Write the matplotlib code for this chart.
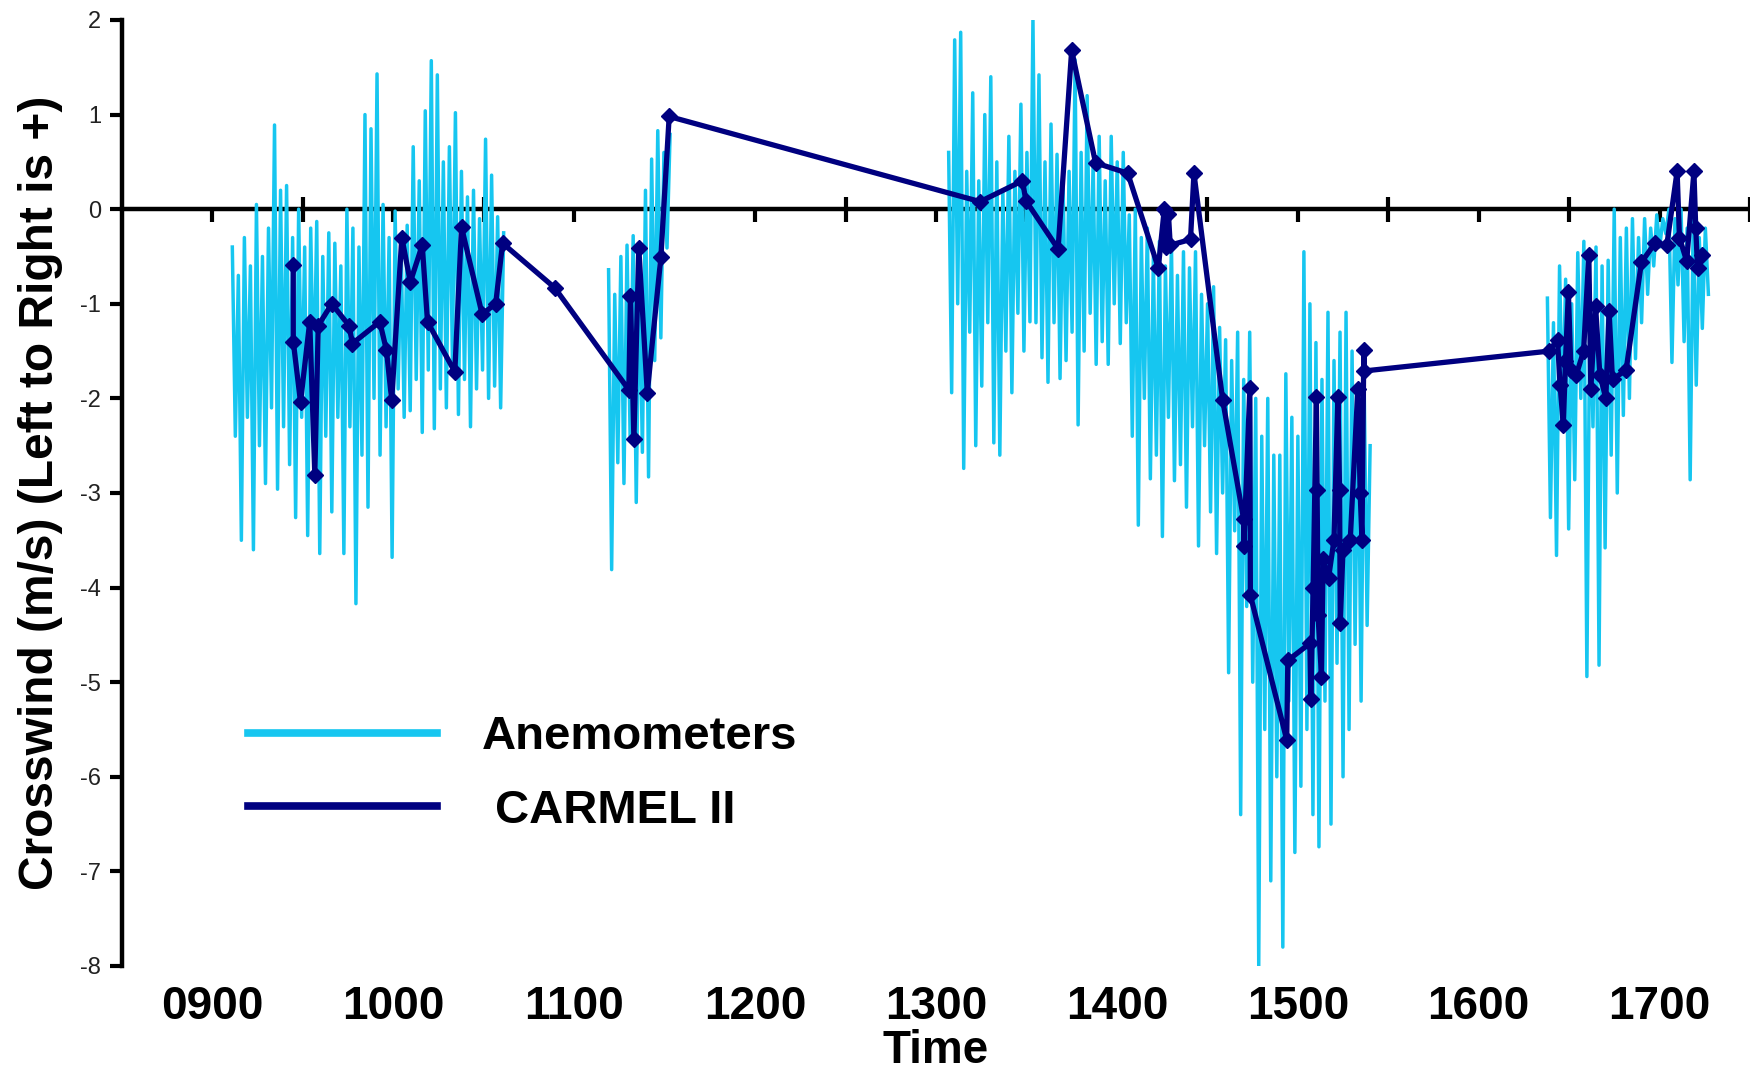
import numpy as np
import matplotlib
matplotlib.use("Agg")
import matplotlib.pyplot as plt
from matplotlib.lines import Line2D

plt.rcParams['font.family'] = ['Liberation Sans', 'DejaVu Sans']
plt.rcParams['axes.unicode_minus'] = False

# ---------------- data ----------------
# Anemometer crosswind, sampled about once per minute (time in decimal hours)
anem_a_span = (9.11, 10.61)
anem_a = [
    -0.4, -2.4, -0.7, -3.5, -0.3, -2.2, -0.6, -3.6, 0.05, -2.5,
    -0.5, -2.9, -0.2, -2.1, 0.89, -2.96, 0.2, -2.3, 0.25, -2.7,
    -0.3, -3.26, 0.0, -2.2, -0.4, -3.45, -0.2, -2.0, -0.13, -3.64,
    -0.5, -2.4, -0.25, -3.2, -0.36, -2.2, -0.6, -3.64, 0.0, -2.3,
    -0.2, -4.17, -0.4, -2.6, 1.0, -3.15, 0.85, -2.0, 1.43, -2.6,
    0.05, -2.3, -0.3, -3.68, -0.02, -1.9, -0.4, -2.2, -0.17, -2.13,
    0.66, -1.8, 0.3, -2.36, 1.04, -1.7, 1.57, -2.32, 1.42, -1.9,
    0.5, -2.1, 0.66, -1.6, 1.02, -2.17, 0.4, -1.8, 0.13, -2.3,
    0.2, -1.9, -0.1, -1.7, 0.74, -2.0, 0.36, -1.87, -0.08, -2.1,
    -0.25]

anem_b_span = (11.19, 11.53)
anem_b = [-0.64, -3.81, -0.9, -2.68, -0.5, -2.9, -0.38, -2.4, -0.28, -3.1,
          -0.6, -2.57, 0.2, -2.83, 0.53, -1.6, 0.83, -1.36, 0.6, -0.41, 0.79]

anem_c_span = (13.07, 15.40)
anem_c = [
    0.6, -1.94, 1.79, -1.0, 1.87, -2.74, 0.4, -1.3, 1.23, -2.5,
    0.3, -1.87, 1.0, -1.2, 1.40, -2.47, 0.5, -2.6, 0.2, -1.5,
    0.77, -1.94, 0.4, -1.1, 1.11, -1.5, 0.6, -1.19, 2.02, -1.2,
    1.42, -1.57, 0.5, -1.83, 0.9, -1.2, 0.58, -1.79, 0.3, -1.6,
    0.4, -1.3, 1.58, -2.28, 0.6, -1.5, 1.2, -1.1, 0.5, -1.64,
    0.77, -1.4, 0.3, -1.64, 0.77, -1.0, 0.5, -1.42, 0.6, -1.2,
    -0.06, -2.4, 0.0, -3.34, -0.3, -2.0, -0.2, -2.85, -0.5, -2.6,
    -0.34, -3.46, -0.6, -2.2, -0.36, -2.87, -0.7, -2.7, -0.45, -3.15,
    -0.62, -2.3, -0.45, -3.56, -0.9, -2.5, -1.0, -3.2, -0.82, -3.64,
    -1.25, -3.0, -1.38, -4.9, -1.6, -3.4, -1.3, -6.4, -1.8, -4.2,
    -1.3, -5.0, -2.0, -8.0, -2.4, -5.5, -2.0, -7.1, -2.6, -6.0,
    -2.6, -7.8, -1.74, -5.2, -2.2, -6.8, -2.4, -6.1, -0.45, -5.5,
    -1.0, -6.4, -1.41, -6.74, -1.8, -5.2, -1.09, -6.5, -1.6, -4.8,
    -1.3, -6.0, -1.09, -5.5, -1.5, -4.6, -2.0, -5.2, -1.8, -4.4,
    -2.5]

anem_e_span = (16.38, 17.27)
anem_e = [
    -0.94, -3.26, -1.2, -3.66, -0.6, -2.2, -0.74, -3.38, -1.0, -2.86,
    -0.46, -2.0, -0.34, -4.94, -0.8, -2.3, -0.4, -4.82, -0.6, -3.58,
    -0.54, -2.6, 0.0, -3.0, -0.3, -2.18, -0.2, -2.0, -0.1, -1.58,
    -0.3, -1.2, -0.1, -0.9, -0.2, -0.6, -0.06, -0.4, -0.1, -0.26,
    0.0, -1.62, -0.1, -0.8, 0.0, -1.4, -0.2, -2.86, -0.1, -1.86,
    -0.3, -1.26, -0.2, -0.9]

# CARMEL II crosswind estimates
carmel_time = [
    9.447, 9.447, 9.487, 9.538, 9.566, 9.585, 9.660, 9.755, 9.774, 9.925,
    9.962, 9.991, 10.047, 10.094, 10.160, 10.189, 10.340, 10.377, 10.491, 10.566,
    10.604, 10.892, 11.302, 11.311, 11.330, 11.357, 11.404, 11.479, 11.525,
    13.244, 13.478, 13.497, 13.675, 13.750, 13.882, 14.060, 14.229, 14.262, 14.270,
    14.285, 14.295, 14.407, 14.426, 14.585, 14.700, 14.702, 14.735, 14.738, 14.939,
    14.945, 15.067, 15.072, 15.085, 15.103, 15.107, 15.112, 15.131, 15.140, 15.170,
    15.200, 15.222, 15.231, 15.235, 15.250, 15.290, 15.332, 15.345, 15.355, 15.365,
    15.368,
    16.390, 16.436, 16.450, 16.468, 16.480, 16.496, 16.510, 16.540, 16.580, 16.609,
    16.620, 16.646, 16.670, 16.703, 16.721, 16.740, 16.815, 16.900, 16.975, 17.040,
    17.097, 17.110, 17.150, 17.190, 17.200, 17.210, 17.237]
carmel_wind = [
    -0.59, -1.40, -2.04, -1.19, -2.81, -1.23, -1.00, -1.23, -1.42, -1.19,
    -1.49, -2.02, -0.30, -0.77, -0.38, -1.19, -1.72, -0.19, -1.11, -1.00,
    -0.36, -0.83, -1.91, -0.92, -2.43, -0.41, -1.94, -0.51, 0.98,
    0.08, 0.30, 0.09, -0.42, 1.68, 0.49, 0.38, -0.62, 0.00, -0.40,
    -0.05, -0.38, -0.32, 0.38, -2.02, -3.27, -3.56, -1.89, -4.08, -5.61,
    -4.77, -4.59, -5.18, -4.00, -1.98, -2.97, -4.29, -4.94, -3.70, -3.90,
    -3.50, -1.98, -2.97, -4.37, -3.60, -3.50, -1.90, -3.00, -3.50, -1.49,
    -1.71,
    -1.50, -1.38, -1.86, -2.28, -1.60, -0.88, -1.70, -1.75, -1.50, -0.48,
    -1.90, -1.02, -1.75, -2.00, -1.08, -1.80, -1.70, -0.56, -0.36, -0.38,
    0.40, -0.30, -0.55, 0.40, -0.20, -0.62, -0.48]

hour_ticks = [9, 10, 11, 12, 13, 14, 15, 16, 17]
hour_labels = ['0900', '1000', '1100', '1200', '1300', '1400', '1500', '1600', '1700']
half_ticks = [9.5, 10.5, 11.5, 12.5, 13.5, 14.5, 15.5, 16.5, 17.5]
y_ticks = [-8, -7, -6, -5, -4, -3, -2, -1, 0, 1, 2]

CYAN = '#16C6F0'
NAVY = '#000080'

# ---------------- figure ----------------
fig = plt.figure(figsize=(17.5, 10.75), dpi=100)
ax = fig.add_axes([0.0697, 0.1014, 0.9303, 0.8800])

segments = [(anem_a_span, anem_a), (anem_b_span, anem_b),
            (anem_c_span, anem_c), (anem_e_span, anem_e)]
for span, vals in segments:
    t = np.linspace(span[0], span[1], len(vals))
    ax.plot(t, vals, color=CYAN, lw=2.5, zorder=3)

ax.plot(carmel_time, carmel_wind, color=NAVY, lw=3.8, marker='D', ms=8,
        markeredgecolor=NAVY, markerfacecolor=NAVY, zorder=4)

ax.set_xlim(8.5, 17.5)
ax.set_ylim(-8, 2)

for s in ['top', 'right', 'bottom']:
    ax.spines[s].set_visible(False)
ax.spines['left'].set_linewidth(3.2)

ax.set_yticks(y_ticks)
ax.tick_params(axis='y', direction='out', length=9, width=3, labelsize=17,
               pad=6, labelcolor='#222222')

ax.set_xticks(hour_ticks, hour_labels)
ax.tick_params(axis='x', length=0, pad=14, labelsize=33)
for lbl in ax.get_xticklabels():
    lbl.set_fontweight('bold')

# zero line with its tick marks
sec = ax.secondary_xaxis(0.8)
for sp in sec.spines.values():
    sp.set_linewidth(3.2)
sec.set_xticks(hour_ticks, [''] * len(hour_ticks))
sec.set_xticks(half_ticks, minor=True)
sec.tick_params(which='major', direction='in', length=9, width=3,
                labeltop=False, labelbottom=False)
sec.tick_params(which='minor', direction='inout', length=18, width=3)

ax.set_xlabel('Time', fontsize=33, fontweight='bold', labelpad=0)
ax.set_ylabel('Crosswind (m/s) (Left to Right is +)', fontsize=34.5,
              fontweight='bold')
ax.yaxis.set_label_coords(-0.036, 0.5)

handles = [Line2D([], [], color=CYAN, lw=5.5),
           Line2D([], [], color=NAVY, lw=5.5)]
leg = fig.legend(handles, ['Anemometers', ' CARMEL II'], loc='center left',
                 bbox_to_anchor=(248 / 1750, 1 - 774 / 1075),
                 bbox_transform=fig.transFigure, frameon=False,
                 prop={'size': 34, 'weight': 'bold'},
                 handlelength=4.0, handletextpad=0.95, labelspacing=0.62,
                 borderpad=0, borderaxespad=0)

fig.savefig('out.png', dpi=100)
